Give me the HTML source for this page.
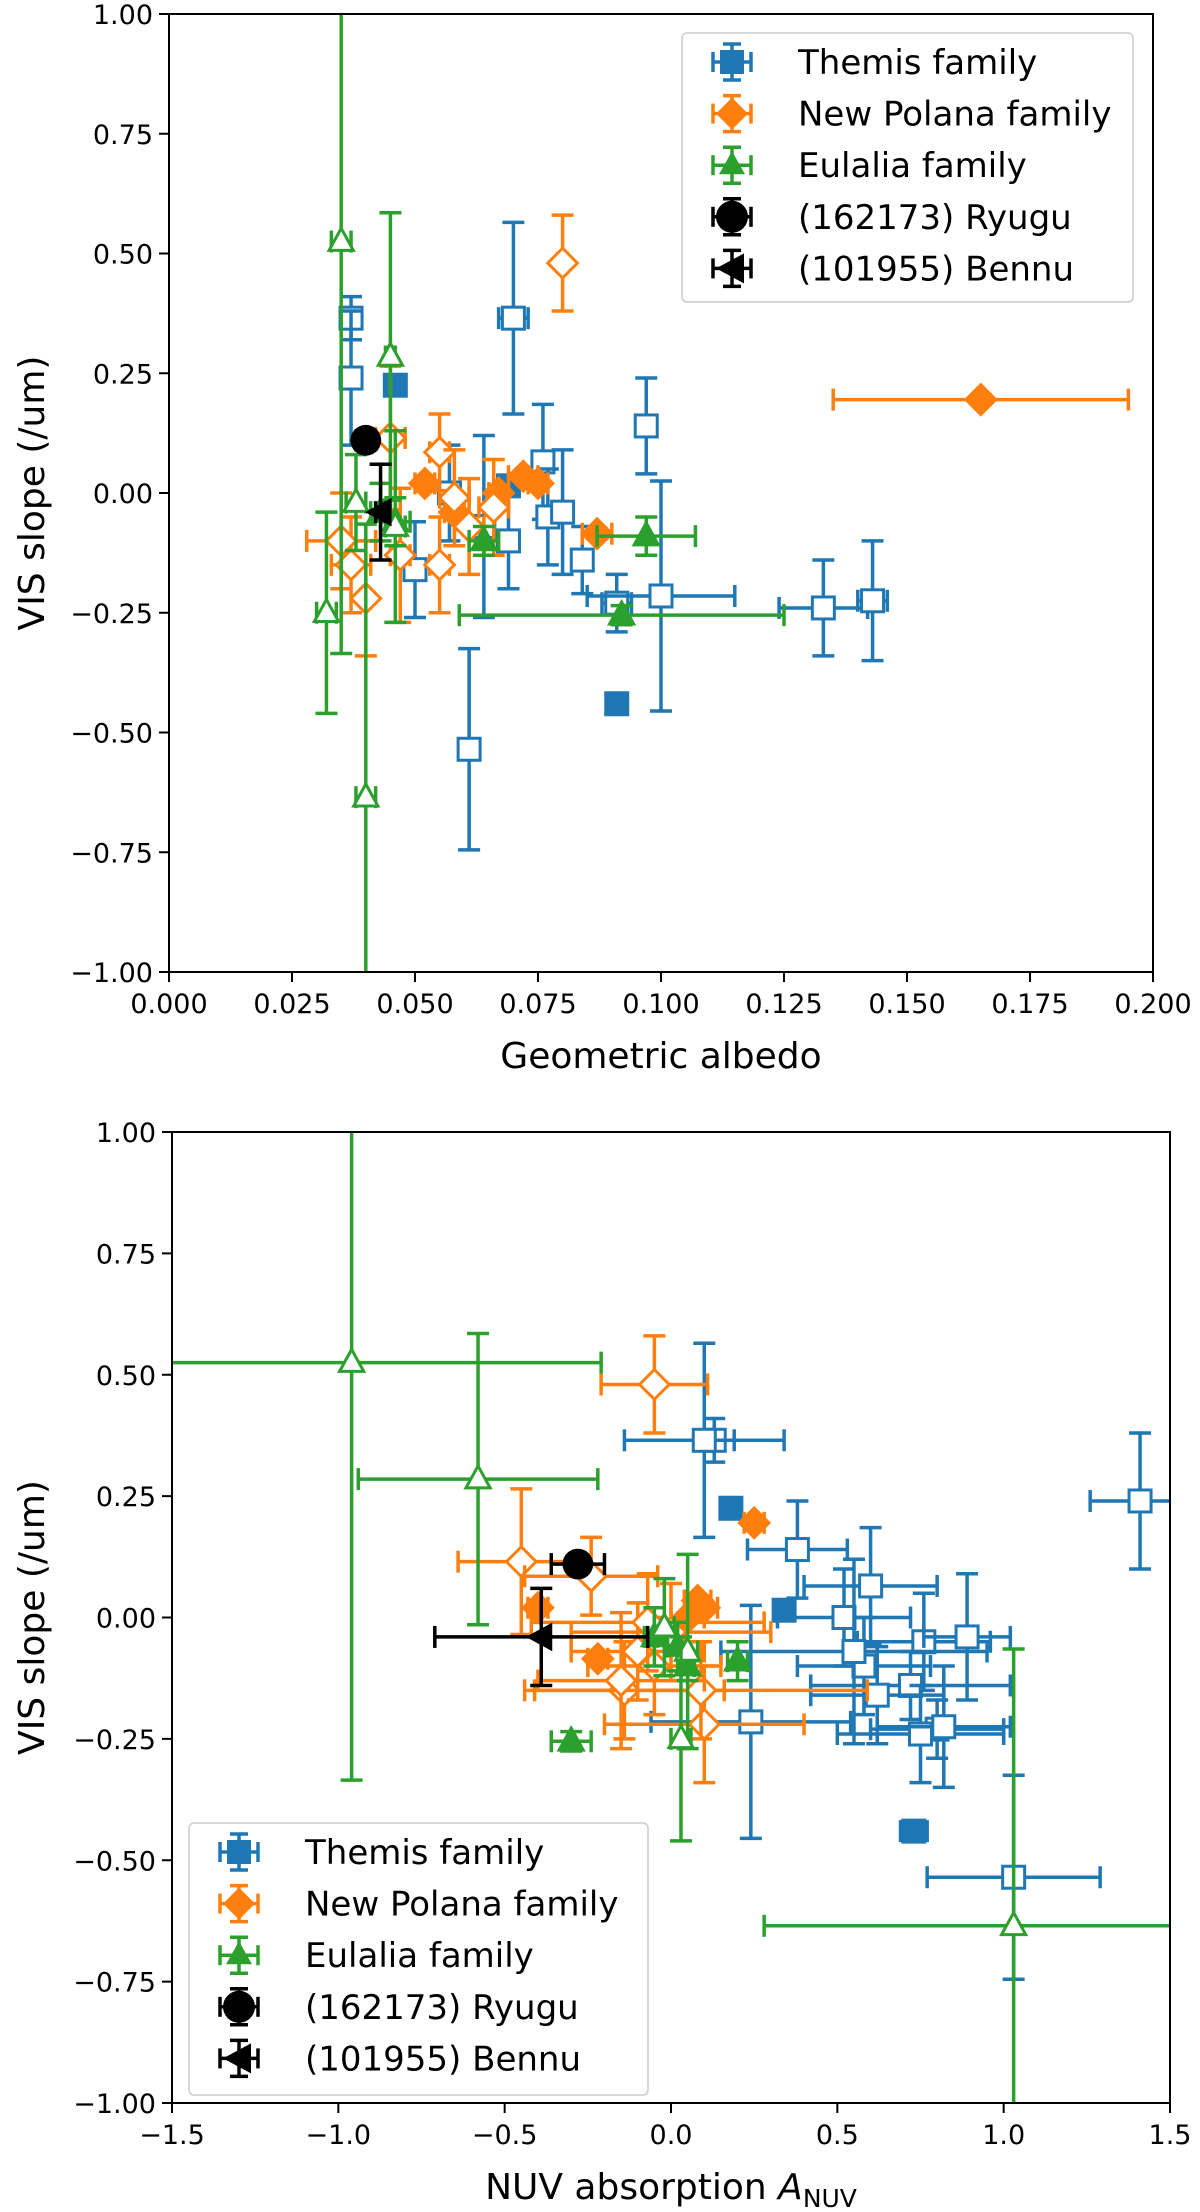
<!DOCTYPE html>
<html><head><meta charset="utf-8">
<style>
body{margin:0;background:#fff;}
svg{display:block;font-family:"DejaVu Sans","Liberation Sans",sans-serif;}
</style></head>
<body>
<svg id="chart" width="1200" height="2212" viewBox="0 0 1200 2212" xmlns="http://www.w3.org/2000/svg"></svg>
<script>
// Themis family: albedo, albedo err, NUV absorption, NUV err, VIS slope, slope err, filled
const themisAlb   =[0.046,0.091,0.069,0.037,0.037,0.070,0.097,0.057,0.061,0.076,0.077,0.080,0.084,0.069,0.091,0.100,0.133,0.143,0.050,0.064];
const themisAlbErr=[0.001,0.001,0.001,0.002,0.002,0.003,0.002,0.002,0.001,0.002,0.002,0.002,0.002,0.002,0.003,0.015,0.009,0.003,0.002,0.002];
const themisNuv   =[0.18,0.73,0.34,0.13,1.41,0.10,0.38,0.52,1.03,0.60,0.76,0.89,0.72,0.58,0.80,0.24,0.75,0.82,0.62,0.55];
const themisNuvErr=[0.02,0.04,0.02,0.06,0.15,0.24,0.15,0.2,0.26,0.2,0.2,0.13,0.3,0.2,0.2,0.3,0.25,0.2,0.2,0.4];
const themisSlope =[0.225,-0.44,0.015,0.365,0.24,0.365,0.14,0.0,-0.535,0.065,-0.05,-0.04,-0.14,-0.1,-0.23,-0.215,-0.24,-0.225,-0.16,-0.07];
const themisSlopeErr=[0.01,0.01,0.01,0.045,0.14,0.2,0.1,0.1,0.21,0.12,0.1,0.13,0.07,0.1,0.06,0.24,0.1,0.125,0.1,0.19];
const themisFilled=[1,1,1,0,0,0,0,0,0,0,0,0,0,0,0,0,0,0,0,0];
// New Polana family
const polanaAlb   =[0.165,0.052,0.058,0.067,0.072,0.075,0.087,0.080,0.045,0.055,0.040,0.037,0.035,0.055,0.061,0.066,0.047,0.058];
const polanaAlbErr=[0.030,0.002,0.002,0.002,0.003,0.002,0.003,0.001,0.003,0.002,0.001,0.004,0.007,0.002,0.003,0.003,0.002,0.003];
const polanaNuv   =[0.25,-0.40,0.00,0.05,0.08,0.10,-0.22,-0.05,-0.45,-0.24,0.10,-0.14,-0.05,0.09,-0.10,0.00,-0.15,-0.07];
const polanaNuvErr=[0.03,0.03,0.04,0.05,0.04,0.04,0.03,0.16,0.19,0.2,0.3,0.3,0.2,0.5,0.2,0.3,0.25,0.35];
const polanaSlope =[0.195,0.02,-0.04,0.0,0.035,0.02,-0.085,0.48,0.115,0.085,-0.22,-0.15,-0.1,-0.15,-0.07,-0.03,-0.13,-0.01];
const polanaSlopeErr=[0.01,0.01,0.01,0.01,0.01,0.01,0.01,0.1,0.15,0.08,0.12,0.1,0.1,0.1,0.1,0.1,0.14,0.1];
const polanaFilled=[1,1,1,1,1,1,1,0,0,0,0,0,0,0,0,0,0,0];
// Eulalia family
const eulaliaAlb   =[0.064,0.092,0.097,0.043,0.046,0.035,0.045,0.046,0.032,0.040,0.038];
const eulaliaAlbErr=[0.003,0.033,0.010,0.002,0.003,0.002,0.001,0.002,0.002,0.002,0.002];
const eulaliaNuv   =[0.05,-0.30,0.20,-0.05,0.02,-0.96,-0.58,0.05,0.03,1.03,-0.02];
const eulaliaNuvErr=[0.02,0.06,0.03,0.03,0.03,0.75,0.36,0.03,0.03,0.75,0.03];
const eulaliaSlope =[-0.10,-0.255,-0.09,-0.04,-0.06,0.525,0.285,-0.07,-0.25,-0.635,-0.02];
const eulaliaSlopeErr=[0.03,0.02,0.04,0.06,0.05,0.86,0.3,0.2,0.21,0.57,0.1];
const eulaliaFilled=[1,1,1,1,1,0,0,0,0,0,0];
// Ryugu & Bennu
const ryuguAlb=[0.040], ryuguAlbErr=[0.002], ryuguNuv=[-0.28], ryuguNuvErr=[0.08], ryuguSlope=[0.11], ryuguSlopeErr=[0.01];
const bennuAlb=[0.043], bennuAlbErr=[0.001], bennuNuv=[-0.39], bennuNuvErr=[0.32], bennuSlope=[-0.04], bennuSlopeErr=[0.1];
// ticks
const albTicks=["0.000","0.025","0.050","0.075","0.100","0.125","0.150","0.175","0.200"];
const nuvTicks=["-1.5","-1.0","-0.5","0.0","0.5","1.0","1.5"];
const slopeTicks=["-1.00","-0.75","-0.50","-0.25","0.00","0.25","0.50","0.75","1.00"];

const NS="http://www.w3.org/2000/svg";
const svg=document.getElementById('chart');
function mk(tag,attrs,parent){const e=document.createElementNS(NS,tag);for(const k in attrs)e.setAttribute(k,attrs[k]);(parent||svg).appendChild(e);return e;}

const C={th:"#1f77b4",po:"#ff7f0e",eu:"#2ca02c",k:"#000000"};
const LW=3.5, CAP=11, MS=11;

function panel(id,L,R,T,B,xmin,xmax,xt,xlabel,legendPos,xkey){
  const g=mk('g',{});
  
  
  const sx=v=>L+(v-xmin)/(xmax-xmin)*(R-L);
  const sy=v=>B-(v+1)/2*(B-T);
  const cp=mk('clipPath',{id:id+'-clip'},g);
  mk('rect',{x:L,y:T,width:R-L,height:B-T},cp);
  const plot=mk('g',{'clip-path':'url(#'+id+'-clip)'},g);
  
  
  function series(name,col,xs,xe,ys,ye,filled,shape,size){
    const sg=mk('g',{},plot);
    
    
    for(let i=0;i<xs.length;i++){
      const px=sx(xs[i]),py=sy(ys[i]);
      const x1=sx(xs[i]-xe[i]),x2=sx(xs[i]+xe[i]),y1=sy(ys[i]+ye[i]),y2=sy(ys[i]-ye[i]);
      const eb=mk('g',{stroke:col,'stroke-width':LW,fill:'none'},sg);
      
      
      mk('line',{x1:x1,y1:py,x2:x2,y2:py},eb);
      mk('line',{x1:px,y1:y1,x2:px,y2:y2},eb);
      mk('line',{x1:x1,y1:py-CAP,x2:x1,y2:py+CAP},eb);
      mk('line',{x1:x2,y1:py-CAP,x2:x2,y2:py+CAP},eb);
      mk('line',{x1:px-CAP,y1:y1,x2:px+CAP,y2:y1},eb);
      mk('line',{x1:px-CAP,y1:y2,x2:px+CAP,y2:y2},eb);
      const f=filled[i]?col:'#fff';
      let m;
      const s=size;
      if(shape==='sq') m=mk('rect',{x:px-s,y:py-s,width:2*s,height:2*s,fill:f,stroke:col,'stroke-width':3},sg);
      else if(shape==='di') m=mk('polygon',{points:`${px},${py-s*1.35} ${px+s*1.35},${py} ${px},${py+s*1.35} ${px-s*1.35},${py}`,fill:f,stroke:col,'stroke-width':3},sg);
      else if(shape==='tr') m=mk('polygon',{points:`${px},${py-s*1.2} ${px+s*1.1},${py+s*0.8} ${px-s*1.1},${py+s*0.8}`,fill:f,stroke:col,'stroke-width':3},sg);
      else if(shape==='ci') m=mk('circle',{cx:px,cy:py,r:s*1.4,fill:f},sg);
      else m=mk('polygon',{points:`${px-s*1.4},${py} ${px+s},${py-s*1.3} ${px+s},${py+s*1.3}`,fill:f},sg);
      
      
    }
  }
  const A=xkey==='alb';
  series('themis',C.th,A?themisAlb:themisNuv,A?themisAlbErr:themisNuvErr,themisSlope,themisSlopeErr,themisFilled,'sq',MS);
  series('new-polana',C.po,A?polanaAlb:polanaNuv,A?polanaAlbErr:polanaNuvErr,polanaSlope,polanaSlopeErr,polanaFilled,'di',MS);
  series('eulalia',C.eu,A?eulaliaAlb:eulaliaNuv,A?eulaliaAlbErr:eulaliaNuvErr,eulaliaSlope,eulaliaSlopeErr,eulaliaFilled,'tr',MS);
  series('ryugu',C.k,A?ryuguAlb:ryuguNuv,A?ryuguAlbErr:ryuguNuvErr,ryuguSlope,ryuguSlopeErr,[1],'ci',MS);
  series('bennu',C.k,A?bennuAlb:bennuNuv,A?bennuAlbErr:bennuNuvErr,bennuSlope,bennuSlopeErr,[1],'lt',MS);
  const fr=mk('rect',{x:L,y:T,width:R-L,height:B-T,fill:'none',stroke:'#000','stroke-width':2},g);
  
  
  xt.forEach((t,i)=>{const x=L+i*(R-L)/(xt.length-1);
    mk('line',{x1:x,y1:B,x2:x,y2:B+10,stroke:'#000','stroke-width':2},g);
    const tx=mk('text',{x:x,y:B+41,'text-anchor':'middle','font-size':27},g);tx.textContent=t.replace('-','\u2212');
    
    });
  slopeTicks.forEach((t,i)=>{const y=B-i*(B-T)/(slopeTicks.length-1);
    mk('line',{x1:L-10,y1:y,x2:L,y2:y,stroke:'#000','stroke-width':2},g);
    const tx=mk('text',{x:L-16,y:y+10,'text-anchor':'end','font-size':27},g);tx.textContent=t.replace('-','\u2212');
    
    });
  const xl=mk('text',{x:(L+R)/2,y:B+96,'text-anchor':'middle','font-size':36},g);
  
  
  if(xkey==='alb') xl.textContent=xlabel;
  else {xl.textContent='NUV absorption ';const it=mk('tspan',{'font-style':'italic'},xl);it.textContent='A';const sb=mk('tspan',{'font-size':25,dy:8},xl);sb.textContent='NUV';}
  const yl=mk('text',{x:0,y:0,'text-anchor':'middle','font-size':36,transform:`translate(44,${(T+B)/2}) rotate(-90)`},g);
  yl.textContent='VIS slope (/um)';
  
  
  const lg=mk('g',{},g);
  
  
  const [lx,ly,lw,lh]=legendPos;
  mk('rect',{x:lx,y:ly,width:lw,height:lh,rx:5,fill:'#fff','fill-opacity':0.8,stroke:'#ccc','stroke-width':1.5},lg);
  const ents=[['Themis family',C.th,'sq'],['New Polana family',C.po,'di'],['Eulalia family',C.eu,'tr'],['(162173) Ryugu',C.k,'ci'],['(101955) Bennu',C.k,'lt']];
  ents.forEach((e,i)=>{const y=ly+29+i*51.6,x=lx+50;
    const eg=mk('g',{},lg);
    
    
    mk('line',{x1:x-19,y1:y,x2:x+19,y2:y,stroke:e[1],'stroke-width':LW},eg);
    mk('line',{x1:x,y1:y-18,x2:x,y2:y+18,stroke:e[1],'stroke-width':LW},eg);
    mk('line',{x1:x-19,y1:y-10,x2:x-19,y2:y+10,stroke:e[1],'stroke-width':LW},eg);
    mk('line',{x1:x+19,y1:y-10,x2:x+19,y2:y+10,stroke:e[1],'stroke-width':LW},eg);
    mk('line',{x1:x-9,y1:y-18,x2:x+9,y2:y-18,stroke:e[1],'stroke-width':LW},eg);
    mk('line',{x1:x-9,y1:y+18,x2:x+9,y2:y+18,stroke:e[1],'stroke-width':LW},eg);
    const s=12;
    if(e[2]==='sq') mk('rect',{x:x-s,y:y-s,width:2*s,height:2*s,fill:e[1]},eg);
    else if(e[2]==='di') mk('polygon',{points:`${x},${y-16} ${x+16},${y} ${x},${y+16} ${x-16},${y}`,fill:e[1]},eg);
    else if(e[2]==='tr') mk('polygon',{points:`${x},${y-14} ${x+13},${y+9} ${x-13},${y+9}`,fill:e[1]},eg);
    else if(e[2]==='ci') mk('circle',{cx:x,cy:y,r:16,fill:e[1]},eg);
    else mk('polygon',{points:`${x-16},${y} ${x+12},${y-15} ${x+12},${y+15}`,fill:e[1]},eg);
    const t=mk('text',{x:lx+116,y:y+12,'font-size':34},eg);t.textContent=e[0];});
}
panel('albedo-panel',169,1153,14,972,0,0.2,albTicks,'Geometric albedo',[682,33,451,269],'alb');
panel('nuv-panel',172,1170,1132,2103,-1.5,1.5,nuvTicks,'',[189,1823,459,272],'nuv');
</script>
</body></html>
